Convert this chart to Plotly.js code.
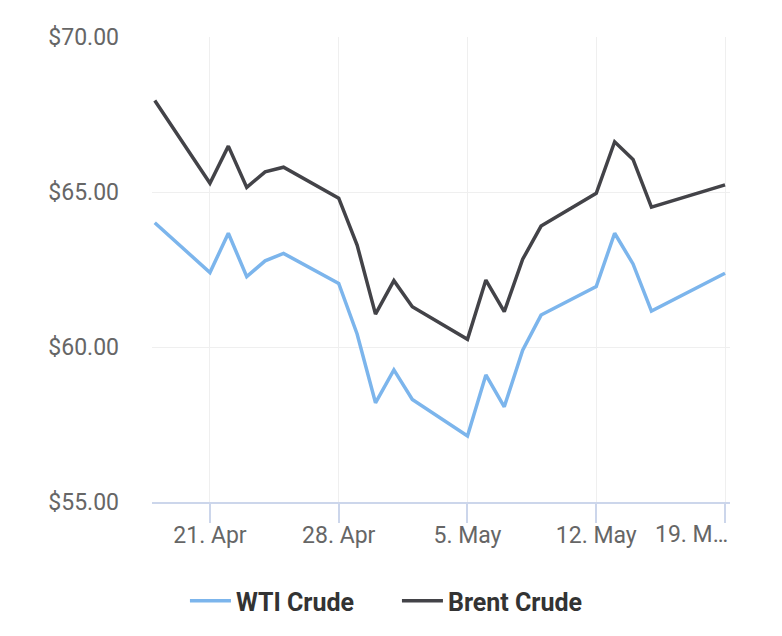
<!DOCTYPE html>
<html>
<head>
<meta charset="utf-8">
<script src="https://cdn.plot.ly/plotly-3.0.1.min.js"></script>
<style>
html,body{margin:0;padding:0;background:#fff;}
#chart{width:782px;height:636px;}
</style>
</head>
<body>
<div id="chart"></div>
<script>
const dates = ['2025-04-18','2025-04-21','2025-04-22','2025-04-23','2025-04-24','2025-04-25','2025-04-28','2025-04-29','2025-04-30','2025-05-01','2025-05-02','2025-05-05','2025-05-06','2025-05-07','2025-05-08','2025-05-09','2025-05-12','2025-05-13','2025-05-14','2025-05-15','2025-05-19'];
const wti = [64.01,62.40,63.67,62.27,62.78,63.02,62.05,60.42,58.20,59.26,58.31,57.13,59.10,58.07,59.90,61.03,61.95,63.67,62.68,61.16,62.38];
const brent = [67.95,65.28,66.48,65.15,65.65,65.80,64.80,63.29,61.06,62.14,61.30,60.25,62.16,61.14,62.83,63.90,64.96,66.62,66.05,64.51,65.23];
const xTickVals = ['2025-04-21','2025-04-28','2025-05-05','2025-05-12','2025-05-19'];
const xTickText = ['21. Apr','28. Apr','5. May','12. May',''];
const lastTickText = '19. M…';
const yTickVals = [55,60,65,70];
const yTickText = ['$55.00','$60.00','$65.00','$70.00'];

const traces = [
  {x: dates, y: wti, name: 'WTI Crude', type: 'scatter', mode: 'lines',
   line: {color: '#7cb5ec', width: 3.5}},
  {x: dates, y: brent, name: 'Brent Crude', type: 'scatter', mode: 'lines',
   line: {color: '#434348', width: 3.5}}
];

const tf = {family: 'Roboto, sans-serif', size: 23, color: '#666666'};

const layout = {
  width: 782, height: 636,
  margin: {l: 152, r: 52, t: 37, b: 134},
  paper_bgcolor: '#ffffff', plot_bgcolor: '#ffffff',
  font: {family: 'Roboto, sans-serif', color: '#666666', size: 23},
  showlegend: true,
  legend: {orientation: 'h', x: 0.057, xanchor: 'left', y: -0.213, yanchor: 'middle',
    font: {family: 'Roboto, sans-serif', size: 25, color: '#333333', weight: 'bold'},
    itemwidth: 41, entrywidth: 156, entrywidthmode: 'pixels'},
  xaxis: {
    type: 'date',
    range: ['2025-04-17 20:24', '2025-05-19 06:30'],
    tickvals: xTickVals, ticktext: xTickText,
    showgrid: true, gridcolor: '#efefef', gridwidth: 1,
    showline: true, linecolor: '#ccd6eb', linewidth: 2,
    ticks: 'outside', ticklen: 19, tickwidth: 2, tickcolor: '#ccd6eb',
    ticklabelstandoff: -8,
    tickfont: tf,
    zeroline: false, fixedrange: true
  },
  yaxis: {
    range: [55, 70],
    tickvals: yTickVals, ticktext: yTickText,
    showgrid: true, gridcolor: '#efefef', gridwidth: 1,
    showline: false, zeroline: false, ticks: '',
    ticklabelstandoff: 32,
    tickfont: tf,
    fixedrange: true
  },
  annotations: [{
    xref: 'paper', yref: 'paper', x: 1, y: 0, xanchor: 'right', yanchor: 'middle',
    yshift: -32, text: lastTickText, showarrow: false, font: tf
  }],
  hovermode: false
};

Plotly.newPlot('chart', traces, layout, {displayModeBar: false, staticPlot: true});
</script>
</body>
</html>
